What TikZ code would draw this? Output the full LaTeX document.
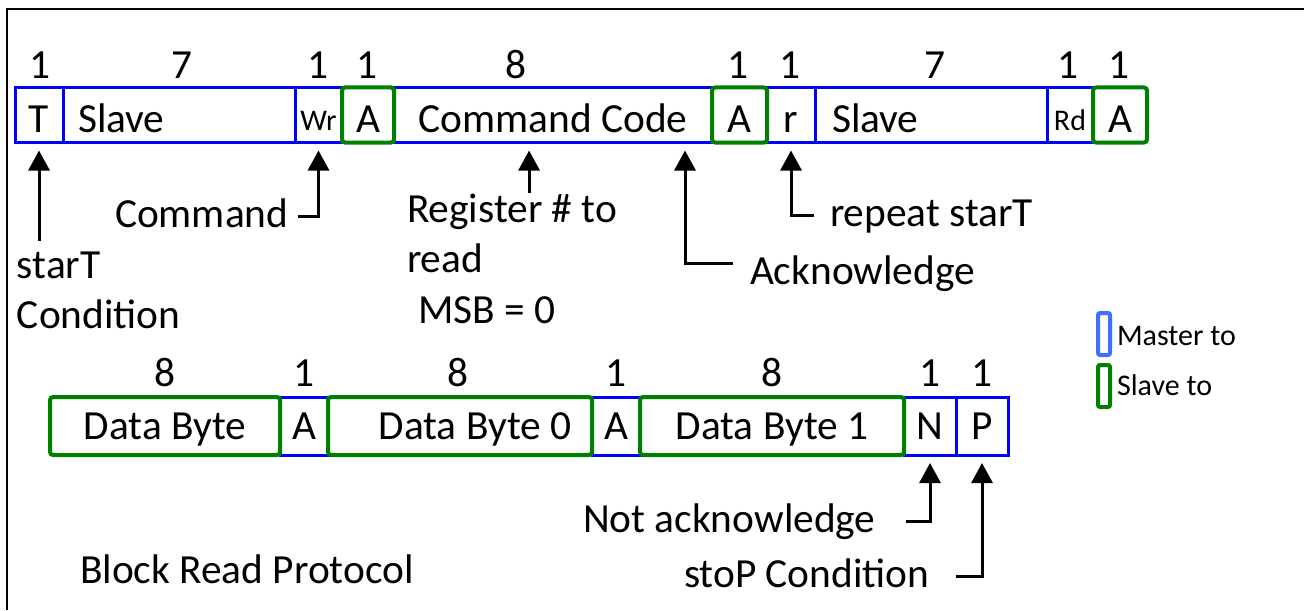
\documentclass[tikz,border=0pt]{standalone}
\usepackage{fontspec}
\setmainfont{Carlito}
\usetikzlibrary{arrows.meta}
\definecolor{mblue}{RGB}{0,0,255}
\definecolor{sgreen}{RGB}{0,128,0}
\definecolor{lblue}{RGB}{64,112,255}
\begin{document}
\begin{tikzpicture}
[x=0.5pt, y=-0.5pt,
 nodes={inner sep=0pt, outer sep=0pt, font=\fontsize{20.7}{25}\selectfont},
 mfield/.style={draw=mblue, line width=1.5pt, minimum height=27.5pt, anchor=west, text height=17.3pt, text depth=0pt},
 sfield/.style={draw=sgreen, line width=2pt, rounded corners=1.5pt, minimum height=27.5pt, anchor=west, text height=17.3pt, text depth=0pt},
 lower/.style={minimum height=29pt, text height=13.3pt},
 smallfont/.style={font=\fontsize{15}{18}\selectfont},
 txt/.style={anchor=base west, text height=14.5pt, text depth=4pt},
 num/.style={anchor=base},
 ptr/.style={-{Triangle[length=10pt,width=10.5pt]}, line width=1.5pt, shorten >=4pt}]
\useasboundingbox (0,0) rectangle (1304,610);
\draw[line width=1pt] (7,610) -- (7,9) -- (1304,9);

% first frame
\node[mfield, minimum width=24pt] (T) at (15,115) {T};
\node[mfield, minimum width=116pt, text width=101pt, align=left] (SlaveW) at (63,115) {Slave};
\node[mfield, minimum width=23.5pt, smallfont, text height=15.7pt] (Wr) at (295,115) {Wr};
\node[mfield, minimum width=159pt] (CmdCode) at (394,115) {Command Code};
\node[mfield, minimum width=24pt] (R) at (767,115) {r};
\node[mfield, minimum width=116pt, text width=99pt, align=left] (SlaveR) at (815,115) {Slave};
\node[mfield, minimum width=23pt, smallfont, text height=15.7pt] (Rd) at (1047,115) {Rd};
\node[sfield, minimum width=26pt] (AckW) at (342,115) {A};
\node[sfield, minimum width=27.5pt] (AckC) at (712,115) {A};
\node[sfield, minimum width=27pt] (AckR) at (1093,115) {A};

\node[num] (nT) at (40,79) {1};
\node[num] (nSlaveW) at (182,79) {7};
\node[num] (nWr) at (318,79) {1};
\node[num] (nAckW) at (367,79) {1};
\node[num] (nCmd) at (516,79) {8};
\node[num] (nAckC) at (738,79) {1};
\node[num] (nR) at (790,79) {1};
\node[num] (nSlaveR) at (935,79) {7};
\node[num] (nRd) at (1068,79) {1};
\node[num] (nAckR) at (1119,79) {1};

% second frame
\node[mfield, lower, minimum width=24pt] (AckD) at (280,426) {A};
\node[mfield, lower, minimum width=24pt] (AckD0) at (592,426) {A};
\node[mfield, lower, minimum width=26pt] (N) at (904,426) {N};
\node[mfield, lower, minimum width=26pt] (P) at (956,426) {P};
\node[sfield, lower, minimum width=115pt] (Data) at (50,426) {Data Byte};
\node[sfield, lower, minimum width=132pt] (DataA) at (328,426) {\hspace{15pt}Data Byte 0};
\node[sfield, lower, minimum width=132pt] (DataB) at (640,426) {Data Byte 1};

\node[num] (nData) at (165,386) {8};
\node[num] (nAckD) at (304,386) {1};
\node[num] (nDataA) at (458,386) {8};
\node[num] (nAckD0) at (616,386) {1};
\node[num] (nDataB) at (772,386) {8};
\node[num] (nN) at (930,386) {1};
\node[num] (nP) at (982,386) {1};

% notes
\node[txt] (StarT) at (17,278) {starT};
\node[txt] (StarTCond) at (17,328) {Condition};
\node[txt] (Command) at (115,227) {Command};
\node[txt] (Register) at (407,222) {Register \# to};
\node[txt] (Read) at (407,272) {read};
\node[txt] (MSB) at (418,323) {MSB = 0};
\node[txt] (Acknowledge) at (750,284) {Acknowledge};
\node[txt] (Repeat) at (830,226) {repeat starT};
\node[txt] (NotAck) at (583,532) {Not acknowledge};
\node[txt] (StoP) at (684,587) {stoP Condition};
\node[txt] (Title) at (80,583) {Block Read Protocol};

\draw[ptr, shorten <=4pt] (T.south |- StarT.north) -- (T.south);
\draw[ptr, shorten <=5pt] (Command.east) -| (Wr.south);
\draw[ptr] ([xshift=8.5pt]Register.north) -- ([xshift=8.5pt]Register.north |- CmdCode.south);
\draw[ptr, shorten <=8.5pt] ([yshift=5.25pt]Acknowledge.west) -| ([xshift=-13.5pt]CmdCode.south east);
\draw[ptr, shorten <=8pt] (Repeat.west) -| (R.south);
\draw[ptr, shorten <=15pt] (NotAck.east) -| (N.south);
\draw[ptr, shorten <=13.5pt] (StoP.east) -| (P.south);

% legend
\node[draw=lblue, line width=2pt, rounded corners=1pt, minimum width=6pt, minimum height=21pt] (KeyM) at (1104,334) {};
\node[draw=sgreen, line width=2pt, rounded corners=1pt, minimum width=6pt, minimum height=21pt] (KeyS) at (1104,386) {};
\node[txt, smallfont] (KeyMText) at (1117,345) {Master to};
\node[txt, smallfont] (KeySText) at (1117,395) {Slave to};
\end{tikzpicture}
\end{document}
